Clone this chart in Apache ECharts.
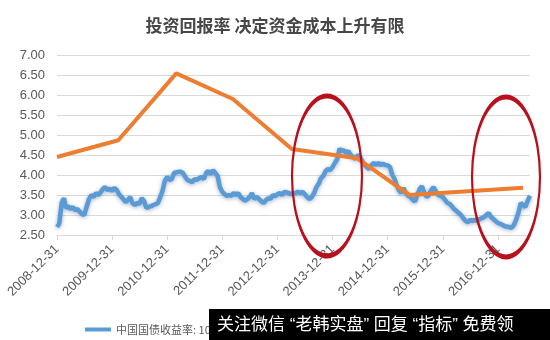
<!DOCTYPE html>
<html><head><meta charset="utf-8">
<script src="https://cdn.jsdelivr.net/npm/echarts@6/dist/echarts.min.js"></script>
<style>html,body{margin:0;padding:0;background:#fff}#c{width:550px;height:340px}</style>
</head><body><div id="c"></div>
<script>
const titleText = '投资回报率 决定资金成本上升有限';
const yieldName = '中国国债收益率: 10年';
const returnName = '投资回报率';
const watermarkText = '关注微信 “老韩实盘” 回复 “指标” 免费领';
const yTicks = [2.5, 3.0, 3.5, 4.0, 4.5, 5.0, 5.5, 6.0, 6.5, 7.0];
const xTickDates = ['2008-12-31','2009-12-31','2010-12-31','2011-12-31','2012-12-31','2013-12-31','2014-12-31','2015-12-31','2016-12-31'];

const yieldDates = [
'2008-12-31','2009-01-15','2009-01-31','2009-02-15','2009-02-28','2009-03-15','2009-03-31','2009-04-15','2009-04-30','2009-05-15','2009-05-31','2009-06-15','2009-06-30','2009-07-15','2009-07-31','2009-08-15','2009-08-31','2009-09-15','2009-09-30','2009-10-15','2009-10-31','2009-11-15','2009-11-30','2009-12-15','2009-12-31',
'2010-01-15','2010-01-31','2010-02-15','2010-02-28','2010-03-15','2010-03-31','2010-04-15','2010-04-30','2010-05-15','2010-05-31','2010-06-15','2010-06-30','2010-07-15','2010-07-31','2010-08-15','2010-08-31','2010-09-15','2010-09-30','2010-10-15','2010-10-31','2010-11-15','2010-11-30','2010-12-15','2010-12-31',
'2011-01-15','2011-01-31','2011-02-15','2011-02-28','2011-03-15','2011-03-31','2011-04-15','2011-04-30','2011-05-15','2011-05-31','2011-06-15','2011-06-30','2011-07-15','2011-07-31','2011-08-15','2011-08-31','2011-09-15','2011-09-30','2011-10-15','2011-10-31','2011-11-15','2011-11-30','2011-12-15','2011-12-31',
'2012-01-15','2012-01-31','2012-02-15','2012-02-29','2012-03-15','2012-03-31','2012-04-15','2012-04-30','2012-05-15','2012-05-31','2012-06-15','2012-06-30','2012-07-15','2012-07-31','2012-08-15','2012-08-31','2012-09-15','2012-09-30','2012-10-15','2012-10-31','2012-11-15','2012-11-30','2012-12-15','2012-12-31',
'2013-01-15','2013-01-31','2013-02-15','2013-02-28','2013-03-15','2013-03-31','2013-04-15','2013-04-30','2013-05-15','2013-05-31','2013-06-15','2013-06-30','2013-07-15','2013-07-31','2013-08-15','2013-08-31','2013-09-15','2013-09-30','2013-10-15','2013-10-31','2013-11-15','2013-11-30','2013-12-15','2013-12-31',
'2014-01-15','2014-01-31','2014-02-15','2014-02-28','2014-03-15','2014-03-31','2014-04-15','2014-04-30','2014-05-15','2014-05-31','2014-06-15','2014-06-30','2014-07-15','2014-07-31','2014-08-15','2014-08-31','2014-09-15','2014-09-30','2014-10-15','2014-10-31','2014-11-15','2014-11-30','2014-12-15','2014-12-31',
'2015-01-15','2015-01-31','2015-02-15','2015-02-28','2015-03-15','2015-03-31','2015-04-15','2015-04-30','2015-05-15','2015-05-31','2015-06-15','2015-06-30','2015-07-15','2015-07-31','2015-08-15','2015-08-31','2015-09-15','2015-09-30','2015-10-15','2015-10-31','2015-11-15','2015-11-30','2015-12-15','2015-12-31',
'2016-01-15','2016-01-31','2016-02-15','2016-02-29','2016-03-15','2016-03-31','2016-04-15','2016-04-30','2016-05-15','2016-05-31','2016-06-15','2016-06-30','2016-07-15','2016-07-31','2016-08-15','2016-08-31','2016-09-15','2016-09-30','2016-10-15','2016-10-31','2016-11-15','2016-11-30','2016-12-15','2016-12-31',
'2017-01-15','2017-01-31','2017-02-15','2017-02-28','2017-03-15','2017-03-31','2017-04-15','2017-04-30','2017-05-15','2017-05-31','2017-06-15','2017-06-30','2017-07-15','2017-07-31'
];
const yieldValues = [
2.70,2.78,3.30,3.42,3.18,3.22,3.15,3.20,3.12,3.15,3.08,3.02,3.00,3.20,3.40,3.50,3.45,3.55,3.50,3.56,3.65,3.70,3.62,3.66,3.60,
3.68,3.62,3.52,3.55,3.40,3.32,3.38,3.45,3.30,3.25,3.30,3.28,3.42,3.35,3.18,3.20,3.22,3.25,3.27,3.30,3.45,3.60,3.85,3.95,
3.88,3.90,4.05,4.00,4.08,4.08,4.05,3.95,3.87,3.85,3.82,3.90,3.88,3.92,3.95,3.90,4.05,4.10,4.02,4.12,4.05,3.98,3.70,3.58,
3.52,3.48,3.50,3.48,3.55,3.50,3.55,3.45,3.40,3.36,3.40,3.45,3.55,3.40,3.45,3.40,3.34,3.30,3.37,3.42,3.40,3.50,3.47,3.52,
3.55,3.50,3.58,3.55,3.55,3.52,3.55,3.55,3.58,3.55,3.58,3.52,3.45,3.40,3.45,3.55,3.70,3.78,3.92,3.98,4.10,4.15,4.12,4.20,
4.30,4.40,4.66,4.60,4.62,4.55,4.60,4.50,4.45,4.40,4.50,4.46,4.35,4.25,4.20,4.15,4.25,4.30,4.25,4.30,4.25,4.28,4.25,4.24,
4.20,4.00,3.90,3.75,3.62,3.55,3.68,3.55,3.48,3.45,3.38,3.34,3.50,3.65,3.72,3.55,3.45,3.50,3.62,3.70,3.60,3.50,3.48,3.45,
3.38,3.30,3.28,3.22,3.15,3.10,3.05,3.00,2.92,2.85,2.82,2.88,2.85,2.88,2.85,2.90,2.92,2.95,3.00,3.05,2.95,2.90,2.85,2.80,
2.78,2.75,2.72,2.75,2.70,2.68,2.75,2.88,3.05,3.30,3.25,3.20,3.35,3.48
];

const returnDates = ['2008-12-31','2010-02-10','2011-03-01','2012-03-10','2013-04-05','2014-06-10','2015-05-25','2017-06-15'];
const returnValues = [4.45, 4.87, 6.54, 5.90, 4.65, 4.42, 3.50, 3.68];

const toTs = d => echarts.time.parse(d).getTime();
const pad = n => (n < 10 ? '0' : '') + n;
const fmtDate = v => { const t = new Date(v); return t.getFullYear() + '-' + pad(t.getMonth() + 1) + '-' + pad(t.getDate()); };

const chart = echarts.init(document.getElementById('c'));
const yieldData = yieldDates.map((d, i) => [toTs(d), yieldValues[i]]);
const returnData = returnDates.map((d, i) => [toTs(d), returnValues[i]]);
const tickTs = xTickDates.map(toTs);
const numFont = 'Liberation Sans';
const cjk = 'Noto Sans CJK SC';

chart.setOption({
  animation: false,
  backgroundColor: '#ffffff',
  title: {
    text: titleText, left: 'center', top: 12,
    textStyle: { fontFamily: cjk, fontSize: 17, fontWeight: 'bold', color: '#474747' }
  },
  legend: {
    left: 80, top: 319, itemWidth: 26, itemHeight: 4, itemGap: 20,
    icon: 'rect',
    data: [yieldName],
    textStyle: { fontFamily: cjk, fontSize: 11, color: '#595959' }
  },
  grid: { left: 57, right: 20, top: 55, bottom: 105 },
  xAxis: {
    type: 'value',
    min: toTs('2008-12-31'), max: toTs('2017-07-31'),
    axisLine: { show: true, lineStyle: { color: '#d9d9d9', width: 1 } },
    axisTick: { show: true, customValues: tickTs, length: 5, lineStyle: { color: '#d9d9d9' } },
    axisLabel: {
      customValues: tickTs, rotate: 45, fontFamily: numFont, fontSize: 13, color: '#595959', margin: 12,
      formatter: v => fmtDate(v)
    },
    splitLine: { show: false }
  },
  yAxis: {
    type: 'value', min: 2.5, max: 7.0, interval: 0.5,
    axisLine: { show: false }, axisTick: { show: false },
    axisLabel: { fontFamily: numFont, fontSize: 13, color: '#595959', margin: 12, formatter: v => v.toFixed(2) },
    splitLine: { lineStyle: { color: '#d9d9d9', width: 1 } }
  },
  series: [
    {
      name: yieldName, type: 'line', data: yieldData, showSymbol: false, symbol: 'none',
      lineStyle: { color: '#5b9bd5', width: 4.5, shadowColor: 'rgba(60,90,140,0.45)', shadowBlur: 4, shadowOffsetY: 1 },
      itemStyle: { color: '#5b9bd5' }, z: 2
    },
    {
      name: returnName, type: 'line', data: returnData, showSymbol: false, symbol: 'none',
      lineStyle: { color: '#ed7d31', width: 4 },
      itemStyle: { color: '#ed7d31' }, z: 3
    }
  ],
  graphic: [
    { type: 'circle', x: 327, y: 176, scaleX: 1, scaleY: 80/35, shape: { cx: 0, cy: 0, r: 35 },
      style: { fill: 'none', stroke: '#b8101c', lineWidth: 2.2, strokeNoScale: true }, z: 100 },
    { type: 'circle', x: 506, y: 177, scaleX: 1, scaleY: 80/34, shape: { cx: 0, cy: 0, r: 34 },
      style: { fill: 'none', stroke: '#b8101c', lineWidth: 2.2, strokeNoScale: true }, z: 100 },
    { type: 'rect', shape: { x: 209, y: 309, width: 341, height: 31 }, style: { fill: '#000000' }, z: 110 },
    { type: 'text', x: 217, y: 325, z: 111,
      style: { text: watermarkText, fill: '#ffffff', fontFamily: 'Liberation Sans, Noto Sans CJK SC', fontSize: 17, verticalAlign: 'middle' } }
  ]
});
</script></body></html>
